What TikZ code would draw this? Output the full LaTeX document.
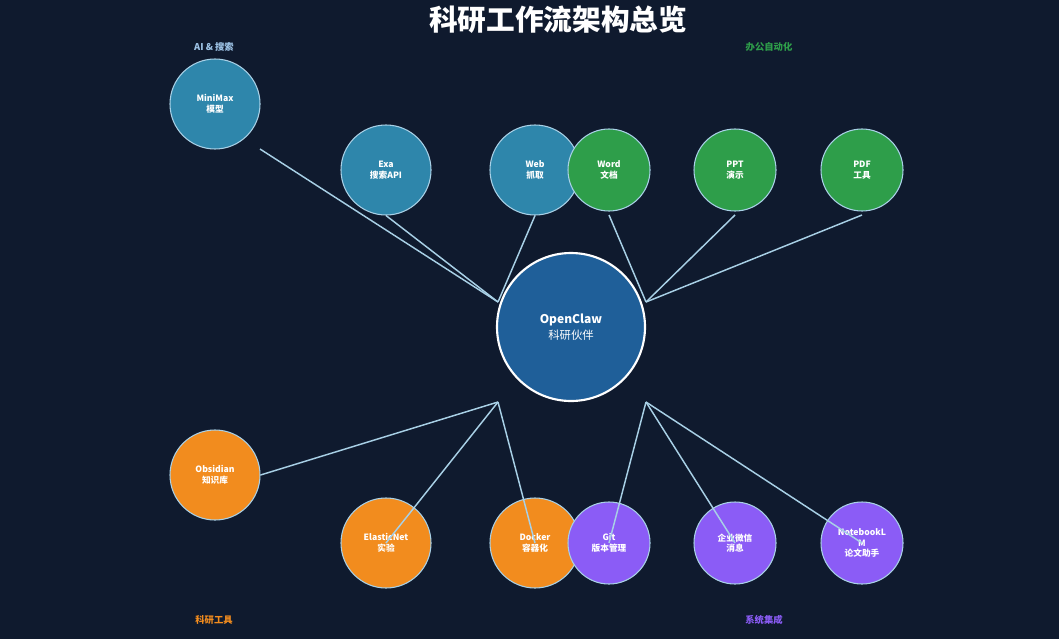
\documentclass[tikz,border=0pt]{standalone}
\usepackage{fontspec}
\setmainfont{Noto Sans CJK SC}
\newfontfamily\cjkb{Noto Sans CJK SC}[FakeBold=0]
\usetikzlibrary{calc}
\definecolor{bg}{HTML}{0F1A2E}
\definecolor{cblue}{HTML}{2E86AB}
\definecolor{cgreen}{HTML}{2E9E4A}
\definecolor{corange}{HTML}{F28C1E}
\definecolor{cpurple}{HTML}{8B5CF6}
\definecolor{ccenter}{HTML}{1F5F99}
\definecolor{cline}{HTML}{A8D0E6}
\definecolor{lblue}{HTML}{9FC5E8}
\definecolor{lgreen}{HTML}{2E9E4A}
\definecolor{lorange}{HTML}{F28C1E}
\definecolor{lpurple}{HTML}{8B5CF6}
\tikzset{
  tool/.style={circle, draw=cline, line width=0.8pt, inner sep=0pt, text=white,
    font=\fontsize{6.5}{8}\selectfont\bfseries, align=center},
  big/.style={tool, minimum size=67.5pt},
  small/.style={tool, minimum size=61.5pt},
  conn/.style={draw=cline, line width=1.1pt},
  grp/.style={font=\fontsize{7}{8}\selectfont\bfseries},
}
\begin{document}
\begin{tikzpicture}[x=0.75pt,y=-0.75pt]
\fill[bg] (0,0) rectangle (1059,639);
\useasboundingbox (0,0) rectangle (1059,639);
\node[text=white, font=\fontsize{21.5}{24}\selectfont\bfseries] (title) at (558,20) {科研工作流架构总览};
\node[grp, text=lblue] (gai) at (214,47) {AI \& 搜索};
\node[grp, text=lgreen] (goff) at (769,47) {办公自动化};
\node[grp, text=lorange] (gres) at (214,620) {科研工具};
\node[grp, text=lpurple] (gsys) at (764,620) {系统集成};
% convergence points
\coordinate (ul) at (498,302);
\coordinate (ur) at (646,302);
\coordinate (ll) at (498,402);
\coordinate (lr) at (646,402);
% circles
\node[big, fill=cblue] (mm) at (215,104) {MiniMax\\模型};
\node[big, fill=cblue] (exa) at (386,170) {Exa\\搜索API};
\node[big, fill=cblue] (web) at (535,170) {Web\\抓取};
\node[small, fill=cgreen] (word) at (609,170) {Word\\文档};
\node[small, fill=cgreen] (ppt) at (735,170) {PPT\\演示};
\node[small, fill=cgreen] (pdf) at (862,170) {PDF\\工具};
\node[big, fill=corange] (obs) at (215,475) {Obsidian\\知识库};
\node[big, fill=corange] (en) at (386,543) {ElasticNet\\实验};
\node[big, fill=corange] (dock) at (535,543) {Docker\\容器化};
\node[small, fill=cpurple] (git) at (609,543) {Git\\版本管理};
\node[small, fill=cpurple] (wx) at (735,543) {企业微信\\消息};
\node[small, fill=cpurple] (nb) at (862,543) {NotebookL\\M\\论文助手};
% connectors
\draw[conn] ($(mm)+(45,45)$) -- (ul);
\draw[conn] (exa.south) -- (ul);
\draw[conn] (web.south) -- (ul);
\draw[conn] ($(word)+(0,45)$) -- (ur);
\draw[conn] ($(ppt)+(0,45)$) -- (ur);
\draw[conn] ($(pdf)+(0,45)$) -- (ur);
\draw[conn] (obs.east) -- (ll);
\draw[conn] (ll) -- (en.center);
\draw[conn] (ll) -- (dock.center);
\draw[conn] (lr) -- (git.center);
\draw[conn] (lr) -- (wx.center);
\draw[conn] (lr) -- (nb.center);
% center
\node[circle, fill=ccenter, draw=white, line width=1.6pt, minimum size=111pt, inner sep=0pt,
  text=white, align=center] (oc) at (571,327)
  {{\fontsize{9}{11}\selectfont\bfseries OpenClaw}\\{\fontsize{8.5}{10}\selectfont 科研伙伴}};
\end{tikzpicture}
\end{document}
